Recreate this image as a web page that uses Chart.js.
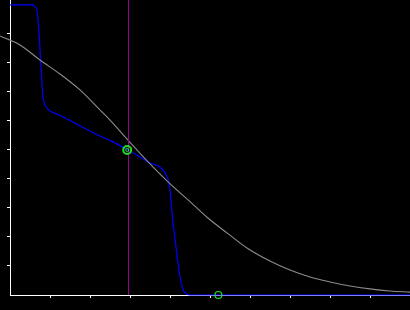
<!DOCTYPE html>
<html>
<head>
<meta charset="utf-8">
<script src="https://cdn.jsdelivr.net/npm/chart.js@4/dist/chart.umd.min.js"></script>
<style>
	html, body { margin: 0; padding: 0; background: #000; }
	#wrap { width: 410px; height: 310px; }
</style>
</head>
<body>
<div id="wrap"><canvas id="plotChart" width="410" height="310"></canvas></div>
<script>
	'use strict';

	// Smooth reference curve (gray)
	const curveX = [-0.25, 0.25, 0.75, 1.25, 1.75, 2.25, 2.5, 2.95, 3.45, 3.95, 4.5, 4.925, 5.425, 5.925, 6.5, 7.0, 7.5, 8.0, 8.5, 9.0, 9.5, 10];
	const curveY = [8.93, 8.62, 8.10, 7.62, 7.07, 6.38, 6.03, 5.34, 4.59, 3.90, 3.22, 2.68, 2.14, 1.62, 1.17, 0.86, 0.62, 0.45, 0.31, 0.21, 0.14, 0.10];

	// Step-like profile (blue)
	const profileX = [0, 0.575, 0.625, 0.675, 0.7, 0.725, 0.75, 0.775, 0.8, 0.825, 0.875, 0.925, 1.0, 1.175, 1.425, 2.25, 2.575, 2.95, 3.25, 3.5, 3.7, 3.825, 3.925, 3.975, 4.0, 4.025, 4.05, 4.1, 4.15, 4.2, 4.25, 4.3, 4.375, 4.5, 10];
	const profileY = [10, 10, 9.93, 9.83, 9.48, 9.03, 8.45, 7.86, 7.31, 6.83, 6.55, 6.45, 6.34, 6.24, 6.07, 5.48, 5.28, 5.0, 4.76, 4.55, 4.45, 4.31, 4.07, 3.86, 3.62, 3.28, 2.83, 2.24, 1.66, 1.10, 0.62, 0.28, 0.07, 0, 0];

	// Vertical marker line (purple)
	const markerLineX = [2.9625, 2.9625];
	const markerLineY = [0, 10.17];

	// Circle markers (green)
	const pointsX = [2.93, 5.21];
	const pointsY = [5.0, 0];

	const axisMax = { x: 10, y: 10.17 };

	function toXY(xs, ys) {
		return xs.map((x, i) => ({ x: x, y: ys[i] }));
	}

	function innerTicksOnly(scale) {
		scale.ticks = scale.ticks.filter(t => t.value > 0 && t.value < 10);
	}

	const axisStyle = {
		type: 'linear',
		min: 0,
		ticks: { display: false, stepSize: 1 },
		grid: { drawOnChartArea: false, drawTicks: true, tickLength: 3, tickColor: '#fff', tickWidth: 1 },
		border: { display: true, color: '#fff', width: 1 },
		afterBuildTicks: innerTicksOnly
	};

	new Chart(document.getElementById('plotChart'), {
		type: 'line',
		data: {
			datasets: [{
				data: toXY(pointsX, pointsY),
				showLine: false,
				pointRadius: [4, 3.5],
				pointBorderWidth: [2, 1.2],
				pointBorderColor: '#1ee01e',
				pointBackgroundColor: 'transparent',
				pointStyle: 'circle',
				clip: false
			}, {
				data: toXY(pointsX.slice(0, 1), pointsY.slice(0, 1)),
				showLine: false,
				pointRadius: 1.5,
				pointBorderWidth: 1,
				pointBorderColor: '#1ee01e',
				pointBackgroundColor: 'transparent'
			}, {
				data: toXY(markerLineX, markerLineY),
				borderColor: '#990099',
				borderWidth: 1,
				pointRadius: 0
			}, {
				data: toXY(curveX, curveY),
				borderColor: '#8c8c8c',
				borderWidth: 1.1,
				pointRadius: 0,
				cubicInterpolationMode: 'monotone',
				clip: false
			}, {
				data: toXY(profileX, profileY),
				borderColor: '#0000ff',
				borderWidth: 1.2,
				pointRadius: 0,
				cubicInterpolationMode: 'monotone',
				clip: false
			}]
		},
		options: {
			responsive: false,
			animation: false,
			layout: { autoPadding: false, padding: { left: 7, right: 0, top: 0, bottom: 12 } },
			plugins: {
				legend: { display: false },
				tooltip: { enabled: false }
			},
			scales: {
				x: Object.assign({}, axisStyle, { max: axisMax.x }),
				y: Object.assign({}, axisStyle, { max: axisMax.y })
			}
		}
	});
</script>
</body>
</html>
